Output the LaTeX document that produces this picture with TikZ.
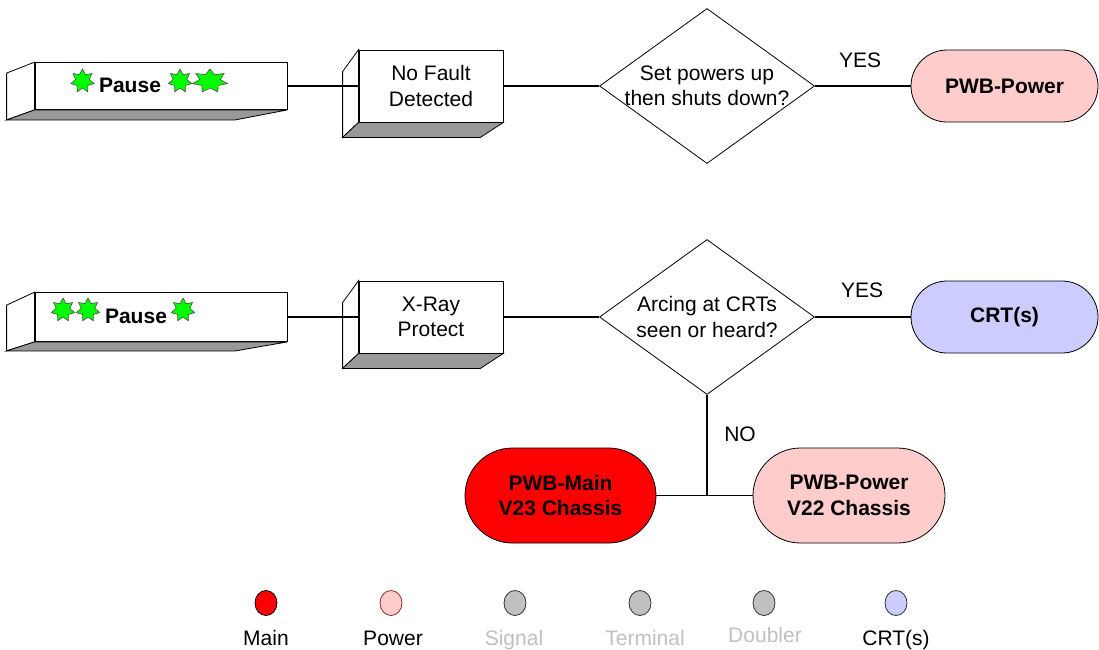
\documentclass[tikz,border=0pt]{standalone}
\usepackage{fontspec}
\setmainfont{Liberation Sans}
\usetikzlibrary{shapes.geometric,shapes.misc}
\definecolor{mainRed}{RGB}{255,0,0}
\definecolor{powerPink}{RGB}{255,204,204}
\definecolor{crtBlue}{RGB}{204,204,255}
\definecolor{boardGray}{RGB}{192,192,192}
\definecolor{faceGray}{RGB}{153,153,153}
\definecolor{starGreen}{RGB}{0,255,0}
\definecolor{darkRed}{RGB}{150,40,40}
\colorlet{paleText}{boardGray}
\newcommand{\dfont}{\fontsize{21}{25.5}\selectfont}

\tikzset{
  front/.style={draw, fill=white, line width=0.8pt, inner sep=0pt, align=center},
  decision/.style={diamond, draw, line width=0.8pt, minimum width=215pt, minimum height=155pt, inner sep=0pt},
  board/.style={rounded rectangle, draw, line width=0.8pt, inner sep=0pt, align=center, font=\dfont\bfseries},
  dot/.style={ellipse, draw, line width=0.8pt, minimum width=22pt, minimum height=25pt, inner sep=0pt},
  greenStar/.style={fill=starGreen, draw=black!70, line width=0.6pt},
  wire/.style={line width=1.1pt},
}

% side and bottom faces of a box, pushed to the lower left
\newcommand{\boxsides}[5]{
  \filldraw[fill=white, line width=0.8pt] (#1.north west) -- ++(#2,#3) -- ([shift={(#2,#4)}]#1.south west) -- (#1.south west) -- cycle;
  \filldraw[fill=faceGray, line width=0.8pt] (#1.south west) -- ([shift={(#2,#4)}]#1.south west) -- ([shift={(#5,#4)}]#1.south east) -- (#1.south east) -- cycle;
}
% seven point star
\newcommand{\gstar}[2][1]{
  \filldraw[greenStar, shift={#2}, xscale=#1] (-90:12) \foreach \k in {0,...,6}{ -- ({-90+\k*360/7+360/14}:7) -- ({-90+(\k+1)*360/7}:12) } -- cycle;
}

\begin{document}
\begin{tikzpicture}[x=1pt, y=-1pt, font=\dfont]
    \useasboundingbox (0,0) rectangle (1099,649);

    % first row
    \node[front, minimum width=252pt, minimum height=47pt] (pause1) at (161,86) {};
    \node[front, minimum width=144pt, minimum height=72pt] (fault) at (431,86) {No Fault\\Detected};
    \boxsides{pause1}{-28}{11}{10}{-52}
    \boxsides{fault}{-16}{22}{15}{-23}
    \node[font=\dfont\bfseries] (pausetxt1) at (130,85) {Pause};
    \gstar{(82.5,81)}
    \gstar{(180,81)}
    \gstar[1.5]{(210,81)}
    \node[decision] (q1) at (707,86) {};
    \node[align=center] (q1txt) at (q1) {Set powers up\\then shuts down?};
    \node[board, fill=powerPink, minimum width=187pt, minimum height=72pt] (pwr1) at (1004.5,86) {PWB-Power};
    \draw[wire] (pause1.east) -- (fault.west);
    \draw[wire] (fault.east) -- (q1.west);
    \draw[wire] (q1.east) -- (pwr1.west);
    \node (yes1) at (860,60) {YES};

    % second row
    \node[front, minimum width=252pt, minimum height=49pt] (pause2) at (161,317) {};
    \node[front, minimum width=144pt, minimum height=72pt] (xray) at (431,317) {X-Ray\\Protect};
    \boxsides{pause2}{-28}{13}{9}{-52}
    \boxsides{xray}{-16}{22}{15}{-23}
    \node[font=\dfont\bfseries] (pausetxt2) at (136,316) {Pause};
    \gstar{(63,310)}
    \gstar{(88,310)}
    \gstar{(183,310)}
    \node[decision] (q2) at (707,317) {};
    \node[align=center] (q2txt) at (q2) {Arcing at CRTs\\seen or heard?};
    \node[board, fill=crtBlue, minimum width=187pt, minimum height=72pt] (crt) at (1004.5,317) {CRT(s)};
    \draw[wire] (pause2.east) -- (xray.west);
    \draw[wire] (xray.east) -- (q2.west);
    \draw[wire] (q2.east) -- (crt.west);
    \node (yes2) at (862,290) {YES};

    % NO branch
    \node[board, fill=mainRed, minimum width=191pt, minimum height=95pt] (main) at (560.5,495.5) {PWB-Main\\V23 Chassis};
    \node[board, fill=powerPink, minimum width=192pt, minimum height=95pt] (pwr2) at (849,495.5) {PWB-Power\\V22 Chassis};
    \coordinate (jn) at (q2.south |- main.east);
    \draw[wire] (q2.south) -- (jn);
    \draw[wire] (main.east) -- (pwr2.west);
    \node (no) at (740,434) {NO};

    % legend
    \foreach \n/\x/\c/\d/\t/\tx/\tc/\ty in {main/266/mainRed/black/Main/266/black/645,
        power/391/powerPink/darkRed/Power/393/black/645,
        signal/515/boardGray/black!80/Signal/514/paleText/645,
        terminal/640/boardGray/black!80/Terminal/645/paleText/645,
        doubler/764/boardGray/black!80/Doubler/765/paleText/642,
        crt/896/crtBlue/black!80/CRT(s)/896/black/645}
    {
        \node[dot, fill=\c, draw=\d] (dot-\n) at (\x,603) {};
        \node[text=\tc, anchor=base] (key-\n) at (\tx,\ty) {\t};
    }
\end{tikzpicture}
\end{document}
